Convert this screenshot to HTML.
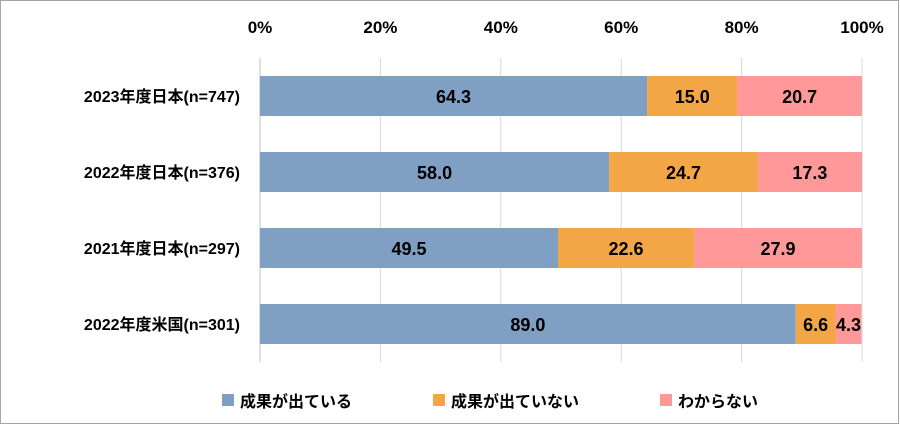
<!DOCTYPE html>
<html><head><meta charset="utf-8"><style>
body{margin:0;background:#fff}
svg text{font-family:"Liberation Sans","Noto Sans CJK JP",sans-serif;font-weight:bold;fill:#000}
</style></head><body>
<svg id="chart" width="900" height="425">
<rect x="0.5" y="0.5" width="898" height="423" fill="#fff" stroke="#a6a6a6"/>
<g id="grid"></g><g id="bars"></g><g id="labels"></g><g id="legend"></g>
</svg>
<script>
const categories=["2023年度日本(n=747)","2022年度日本(n=376)","2021年度日本(n=297)","2022年度米国(n=301)"];
const seriesNames=["成果が出ている","成果が出ていない","わからない"];
const s1=[64.3,58.0,49.5,89.0];
const s2=[15.0,24.7,22.6,6.6];
const s3=[20.7,17.3,27.9,4.3];
const ticks=[0,20,40,60,80,100];
const colors=["#7f9fc3","#f2a646","#ff9999"];
const NS="http://www.w3.org/2000/svg";
const x0=260,x1=862,yTop=58,yBot=362;
const xs=v=>x0+(x1-x0)*v/100;
const rowY=i=>yTop+(yBot-yTop)*(i+0.5)/categories.length;
const bh=40;
function mk(t,a,p){const e=document.createElementNS(NS,t);for(const k in a)e.setAttribute(k,a[k]);p.appendChild(e);return e;}
const grid=document.getElementById('grid'),bars=document.getElementById('bars'),labels=document.getElementById('labels'),legend=document.getElementById('legend');
ticks.forEach(t=>{
 if(t>0){const l=mk('line',{x1:xs(t),x2:xs(t),y1:yTop,y2:yBot,stroke:'#d9d9d9','stroke-width':1},grid);
 
 }
 const tx=mk('text',{x:xs(t),y:33,'text-anchor':'middle','font-size':17},labels);tx.textContent=t+'%';
 
 
});
const ax=mk('line',{x1:x0,x2:x0,y1:yTop,y2:yBot,stroke:'#bfbfbf','stroke-width':1},grid);


const series=[s1,s2,s3];
categories.forEach((c,i)=>{
 const cy=rowY(i);let acc=0;
 const cl=mk('text',{x:240,y:cy+6,'text-anchor':'end','font-size':16},labels);cl.textContent=c;
 
 
 series.forEach((s,j)=>{
  const v=s[i];
  const r=mk('rect',{x:xs(acc),y:cy-bh/2,width:xs(acc+v)-xs(acc),height:bh,fill:colors[j]},bars);
  
  
  const t=mk('text',{x:xs(acc+v/2),y:cy+7,'text-anchor':'middle','font-size':18},labels);t.textContent=v.toFixed(1);
  
  
  acc+=v;
 });
});
const lx=[222,433,660];
seriesNames.forEach((n,j)=>{
 const r=mk('rect',{x:lx[j],y:394,width:12,height:12,fill:colors[j]},legend);
 
 
 const t=mk('text',{x:lx[j]+18,y:407,'font-size':16},legend);t.textContent=n;
 
 
});
</script>
</body></html>
